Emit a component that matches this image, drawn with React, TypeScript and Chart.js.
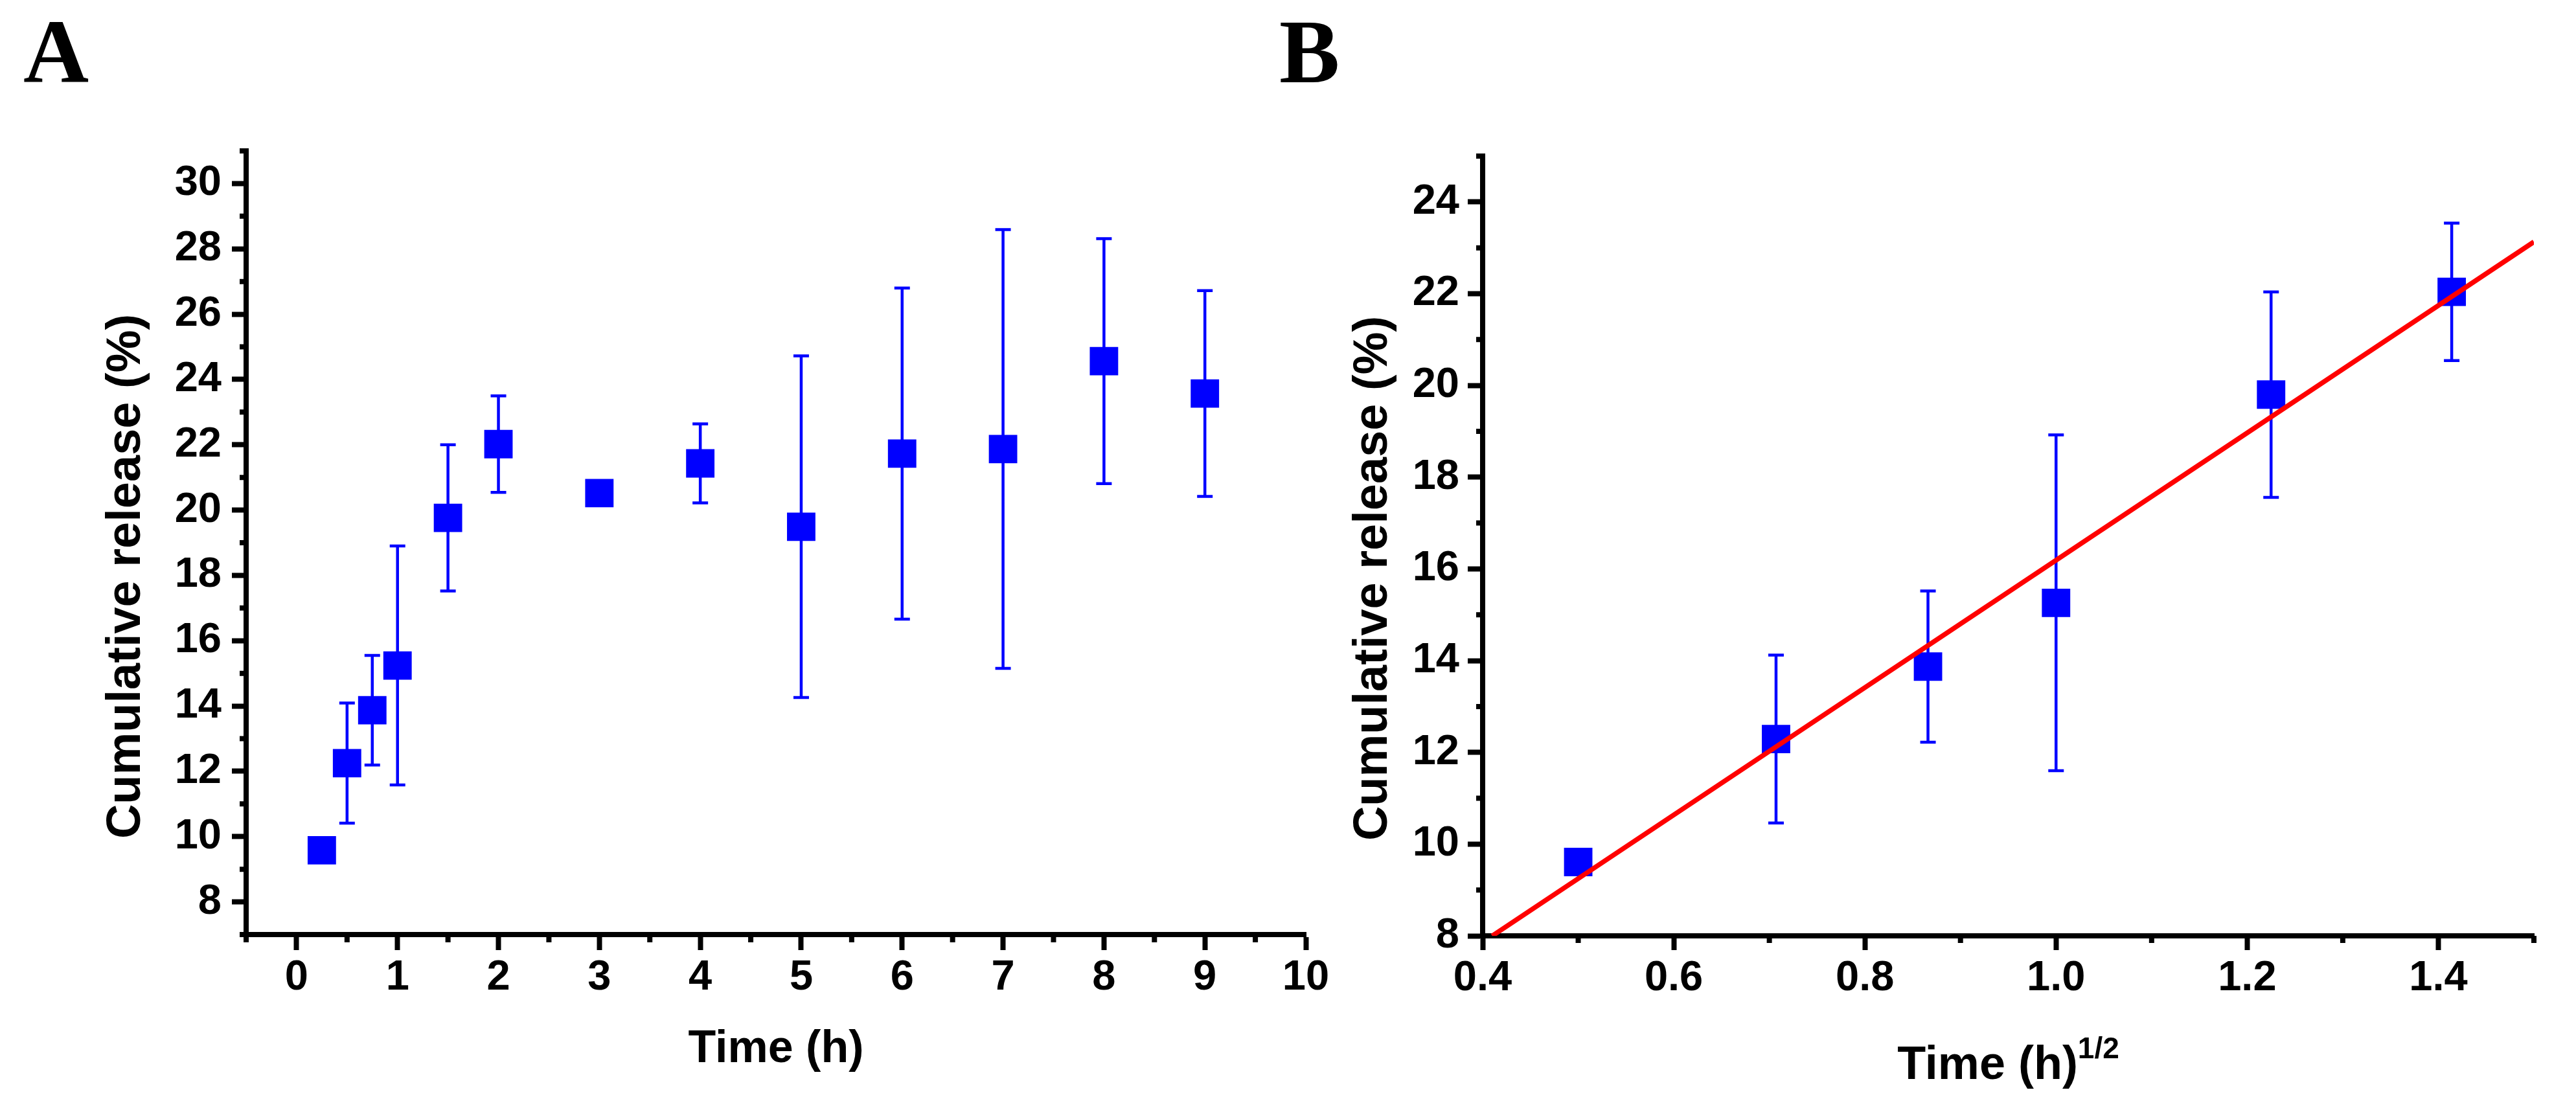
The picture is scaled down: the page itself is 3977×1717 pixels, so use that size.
import React, { useEffect, useRef } from 'react';
import { Chart, registerables } from 'chart.js';

Chart.register(...registerables);

// ---------- data ----------
const timeA = [0.25, 0.5, 0.75, 1, 1.5, 2, 3, 4, 5, 6, 7, 8, 9];
const releaseA = [9.58, 12.25, 13.87, 15.24, 19.76, 22.02, 20.52, 21.43, 19.49, 21.73, 21.87, 24.56, 23.57];
const sdA = [0, 1.84, 1.68, 3.66, 2.24, 1.48, 0, 1.21, 5.23, 5.07, 6.72, 3.75, 3.15];

const sqrtTimeB = [0.5, 0.707, 0.866, 1.0, 1.225, 1.414];
const releaseB = [9.61, 12.29, 13.87, 15.26, 19.8, 22.04];
const sdB = [0, 1.83, 1.65, 3.66, 2.24, 1.5];

const fitX = [0.41, 1.5];
const fitY = [8.0, 23.13];

const aXMajor = [0, 1, 2, 3, 4, 5, 6, 7, 8, 9, 10];
const aXMinor = [-0.5, 0.5, 1.5, 2.5, 3.5, 4.5, 5.5, 6.5, 7.5, 8.5, 9.5];
const aYMajor = [8, 10, 12, 14, 16, 18, 20, 22, 24, 26, 28, 30];
const aYMinor = [7, 9, 11, 13, 15, 17, 19, 21, 23, 25, 27, 29, 31];

const bXMajor = [0.4, 0.6, 0.8, 1.0, 1.2, 1.4];
const bXMinor = [0.5, 0.7, 0.9, 1.1, 1.3, 1.5];
const bYMajor = [8, 10, 12, 14, 16, 18, 20, 22, 24];
const bYMinor = [9, 11, 13, 15, 17, 19, 21, 23, 25];

// ---------- styles ----------
const SANS = "'Liberation Sans', Arial, Helvetica, sans-serif";
const SERIF = "'Liberation Serif', 'Times New Roman', serif";
const BLUE = '#0000FF';
const RED = '#FF0000';
const BLACK = '#000000';
const TICK_FONT = { family: SANS, size: 65, weight: 'bold' as const };

const setTicks = (values: number[]) => (scale: any) => {
  scale.ticks = values.map((v) => ({ value: v }));
};
const fixWidth = (w: number) => (scale: any) => {
  scale.width = w;
  scale.paddingTop = 0;
  scale.paddingBottom = 0;
  scale.paddingLeft = 0;
  scale.paddingRight = 0;
};
const fixHeight = (h: number) => (scale: any) => {
  scale.height = h;
  scale.paddingTop = 0;
  scale.paddingBottom = 0;
  scale.paddingLeft = 0;
  scale.paddingRight = 0;
};

function errorBars(xs: number[], ys: number[], sds: number[], capWidth: number, lineWidth: number) {
  return {
    id: 'errorBars',
    beforeDatasetsDraw(chart: any) {
      const { ctx, scales } = chart;
      const sx = scales.x;
      const sy = scales.y;
      ctx.save();
      ctx.strokeStyle = BLUE;
      ctx.lineWidth = lineWidth;
      ctx.lineCap = 'butt';
      ctx.beginPath();
      xs.forEach((xv, i) => {
        const sd = sds[i];
        if (!sd) return;
        const px = sx.getPixelForValue(xv);
        const top = sy.getPixelForValue(ys[i] + sd);
        const bot = sy.getPixelForValue(ys[i] - sd);
        ctx.moveTo(px, top);
        ctx.lineTo(px, bot);
        ctx.moveTo(px - capWidth / 2, top);
        ctx.lineTo(px + capWidth / 2, top);
        ctx.moveTo(px - capWidth / 2, bot);
        ctx.lineTo(px + capWidth / 2, bot);
      });
      ctx.stroke();
      ctx.restore();
    },
  };
}

function minorTicks(xVals: number[], xLen: number, yVals: number[], yLen: number, width: number) {
  return {
    id: 'minorTicks',
    afterDraw(chart: any) {
      const { ctx, chartArea, scales } = chart;
      ctx.save();
      ctx.strokeStyle = BLACK;
      ctx.lineWidth = width;
      ctx.lineCap = 'butt';
      ctx.beginPath();
      xVals.forEach((v) => {
        const px = scales.x.getPixelForValue(v);
        ctx.moveTo(px, chartArea.bottom);
        ctx.lineTo(px, chartArea.bottom + xLen);
      });
      yVals.forEach((v) => {
        const py = scales.y.getPixelForValue(v);
        ctx.moveTo(chartArea.left, py);
        ctx.lineTo(chartArea.left - yLen, py);
      });
      ctx.stroke();
      ctx.restore();
    },
  };
}

interface TitleSpec {
  xText: string;
  xSup?: string;
  xSize: number;
  xSupSize?: number;
  xSupRaise?: number;
  xOffset: number;
  yText: string;
  ySize: number;
  yOffset: number;
  yShift: number;
}

function axisTitles(spec: TitleSpec) {
  return {
    id: 'axisTitles',
    afterDraw(chart: any) {
      const { ctx, chartArea } = chart;
      ctx.save();
      ctx.fillStyle = BLACK;
      ctx.textBaseline = 'alphabetic';
      // x title
      const mainFont = `bold ${spec.xSize}px ${SANS}`;
      const supFont = `bold ${spec.xSupSize || 40}px ${SANS}`;
      ctx.font = mainFont;
      const mainW = ctx.measureText(spec.xText).width;
      let supW = 0;
      if (spec.xSup) {
        ctx.font = supFont;
        supW = ctx.measureText(spec.xSup).width;
      }
      const cx = (chartArea.left + chartArea.right) / 2;
      const startX = cx - (mainW + supW) / 2;
      const by = chartArea.bottom + spec.xOffset;
      ctx.textAlign = 'left';
      ctx.font = mainFont;
      ctx.fillText(spec.xText, startX, by);
      if (spec.xSup) {
        ctx.font = supFont;
        ctx.fillText(spec.xSup, startX + mainW, by - (spec.xSupRaise || 0));
      }
      // y title
      ctx.translate(chartArea.left - spec.yOffset, (chartArea.top + chartArea.bottom) / 2 + spec.yShift);
      ctx.rotate(-Math.PI / 2);
      ctx.textAlign = 'center';
      ctx.font = `bold ${spec.ySize}px ${SANS}`;
      ctx.fillText(spec.yText, 0, 0);
      ctx.restore();
    },
  };
}

function axisBase(tickLength: number) {
  return {
    grid: {
      display: true,
      drawOnChartArea: false,
      drawTicks: true,
      tickLength,
      tickWidth: 8,
      tickColor: BLACK,
      color: BLACK,
    },
    border: { display: true, width: 8, color: BLACK },
  };
}

function configA(): any {
  return {
    type: 'scatter',
    data: {
      datasets: [
        {
          data: timeA.map((t, i) => ({ x: t, y: releaseA[i] })),
          pointStyle: 'rect',
          pointRadius: 31,
          pointHoverRadius: 31,
          backgroundColor: BLUE,
          borderColor: BLUE,
          borderWidth: 0,
        },
      ],
    },
    options: {
      responsive: false,
      animation: false,
      devicePixelRatio: 1,
      events: [],
      layout: { padding: { left: 36, right: 54, top: 0, bottom: 0 } },
      plugins: {
        legend: { display: false },
        tooltip: { enabled: false },
        title: {
          display: true,
          text: 'A',
          align: 'start',
          color: BLACK,
          font: { family: SERIF, size: 140, weight: 'bold' },
          padding: { top: 7, bottom: 58 },
        },
      },
      scales: {
        x: {
          type: 'linear',
          position: 'bottom',
          min: -0.5,
          max: 10,
          afterBuildTicks: setTicks(aXMajor),
          afterFit: fixHeight(274),
          ticks: {
            font: TICK_FONT,
            color: BLACK,
            padding: 4,
            maxRotation: 0,
            autoSkip: false,
            callback: (v: number) => String(v),
          },
          ...axisBase(24),
        },
        y: {
          type: 'linear',
          position: 'left',
          min: 7,
          max: 31,
          afterBuildTicks: setTicks(aYMajor),
          afterFit: fixWidth(344),
          ticks: {
            font: TICK_FONT,
            color: BLACK,
            padding: 16,
            autoSkip: false,
            callback: (v: number) => String(v),
          },
          ...axisBase(22),
        },
      },
    },
    plugins: [
      errorBars(timeA, releaseA, sdA, 24, 4.5),
      minorTicks(aXMinor, 12, aYMinor, 10, 8),
      axisTitles({
        xText: 'Time (h)',
        xSize: 70,
        xOffset: 197,
        yText: 'Cumulative release (%)',
        ySize: 74,
        yOffset: 164,
        yShift: 52,
      }),
    ],
  };
}

function configB(): any {
  return {
    type: 'scatter',
    data: {
      datasets: [
        {
          type: 'line',
          data: fitX.map((x, i) => ({ x, y: fitY[i] })),
          borderColor: RED,
          borderWidth: 7.5,
          pointRadius: 0,
          pointHoverRadius: 0,
          showLine: true,
          fill: false,
          tension: 0,
          order: 0,
        },
        {
          data: sqrtTimeB.map((x, i) => ({ x, y: releaseB[i] })),
          pointStyle: 'rect',
          pointRadius: 31,
          pointHoverRadius: 31,
          backgroundColor: BLUE,
          borderColor: BLUE,
          borderWidth: 0,
          order: 1,
        },
      ],
    },
    options: {
      responsive: false,
      animation: false,
      devicePixelRatio: 1,
      events: [],
      layout: { padding: { left: 15, right: 65, top: 0, bottom: 0 } },
      plugins: {
        legend: { display: false },
        tooltip: { enabled: false },
        title: {
          display: true,
          text: 'B',
          align: 'start',
          color: BLACK,
          font: { family: SERIF, size: 140, weight: 'bold' },
          padding: { top: 7, bottom: 66 },
        },
      },
      scales: {
        x: {
          type: 'linear',
          position: 'bottom',
          min: 0.4,
          max: 1.5,
          afterBuildTicks: setTicks(bXMajor),
          afterFit: fixHeight(272),
          ticks: {
            font: TICK_FONT,
            color: BLACK,
            padding: 5,
            maxRotation: 0,
            autoSkip: false,
            callback: (v: number) => Number(v).toFixed(1),
          },
          ...axisBase(22),
        },
        y: {
          type: 'linear',
          position: 'left',
          min: 8,
          max: 25,
          afterBuildTicks: setTicks(bYMajor),
          afterFit: fixWidth(314),
          ticks: {
            font: TICK_FONT,
            color: BLACK,
            padding: 13,
            autoSkip: false,
            callback: (v: number) => String(v),
          },
          ...axisBase(23),
        },
      },
    },
    plugins: [
      errorBars(sqrtTimeB, releaseB, sdB, 24, 4.5),
      minorTicks(bXMinor, 11, bYMinor, 10, 8),
      axisTitles({
        xText: 'Time (h)',
        xSup: '1/2',
        xSize: 72,
        xSupSize: 46,
        xSupRaise: 32,
        xOffset: 221,
        yText: 'Cumulative release (%)',
        ySize: 74,
        yOffset: 148,
        yShift: 50,
      }),
    ],
  };
}

function Panel({ build, left, width, height }: { build: () => any; left: number; width: number; height: number }) {
  const ref = useRef<HTMLCanvasElement | null>(null);
  useEffect(() => {
    if (!ref.current) return;
    const chart = new Chart(ref.current, build());
    return () => chart.destroy();
  }, [build]);
  return (
    <canvas
      ref={ref}
      width={width}
      height={height}
      style={{ position: 'absolute', left, top: 0, width, height }}
    />
  );
}

export default function App() {
  return (
    <div
      style={{
        position: 'absolute',
        left: 0,
        top: 0,
        width: 3977,
        height: 1717,
        background: '#ffffff',
        overflow: 'hidden',
      }}
    >
      <Panel build={configA} left={0} width={2070} height={1717} />
      <Panel build={configB} left={1960} width={2017} height={1717} />
    </div>
  );
}
